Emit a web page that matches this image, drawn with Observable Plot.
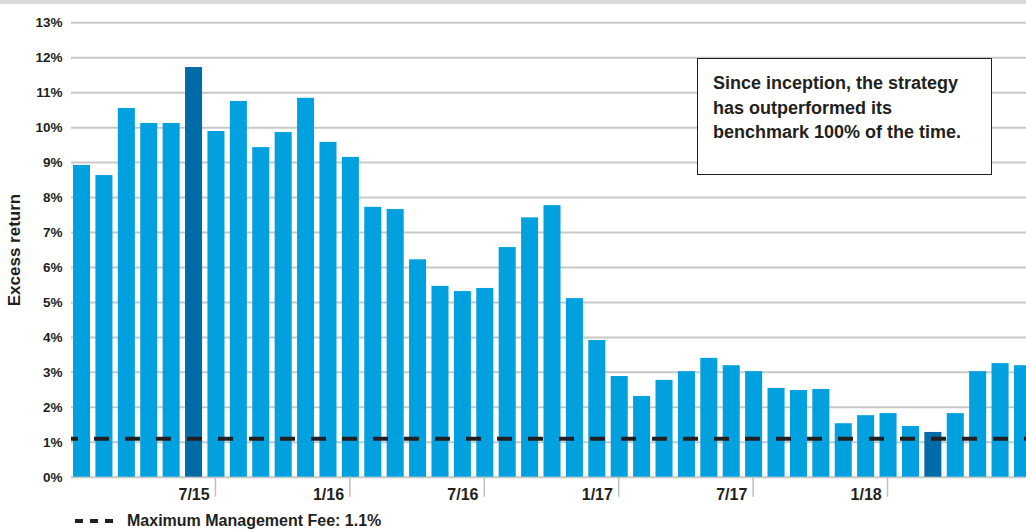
<!DOCTYPE html>
<html>
<head>
<meta charset="utf-8">
<script src="https://cdn.jsdelivr.net/npm/d3@7"></script>
<script src="https://cdn.jsdelivr.net/npm/@observablehq/plot@0.6"></script>
<style>
  html, body { margin: 0; padding: 0; background: #fff; overflow: hidden; }
  body { width: 1026px; height: 529px; font-family: "Liberation Sans", Arial, sans-serif; color: #231f20; }
  #band { height: 4px; background: #d9d9d9; }
  #wrap { position: relative; }
  #note {
    position: absolute; left: 697px; top: 54px; width: 278px; height: 103px;
    border: 1.5px solid #231f20; background: #fff; padding: 12px 0 0 15px;
    font-weight: bold; font-size: 18px; line-height: 24.5px; box-sizing: content-box;
  }
  #legend { position: relative; height: 18px; }
  #legend svg { position: absolute; left: 75px; top: 7px; }
  #legend span { position: absolute; left: 127px; top: 0px; font-weight: bold; font-size: 16px; line-height: 20px; }
</style>
</head>
<body>
<div id="band"></div>
<div id="wrap"></div>
<div id="legend"></div>
<script>
// ---- data ----
const months = ["2/15","3/15","4/15","5/15","6/15","7/15","8/15","9/15","10/15","11/15","12/15",
  "1/16","2/16","3/16","4/16","5/16","6/16","7/16","8/16","9/16","10/16","11/16","12/16",
  "1/17","2/17","3/17","4/17","5/17","6/17","7/17","8/17","9/17","10/17","11/17","12/17",
  "1/18","2/18","3/18","4/18","5/18","6/18","7/18","8/18"];
const excessReturn = [8.92, 8.63, 10.55, 10.12, 10.12, 11.72, 9.89, 10.75, 9.43, 9.86, 10.84,
  9.58, 9.15, 7.72, 7.66, 6.22, 5.46, 5.31, 5.40, 6.57, 7.42, 7.77, 5.11,
  3.91, 2.88, 2.31, 2.77, 3.02, 3.40, 3.19, 3.02, 2.54, 2.48, 2.51, 1.53,
  1.76, 1.82, 1.45, 1.28, 1.82, 3.02, 3.25, 3.19];
const highlighted = ["7/15", "4/18"];
const labelMonths = ["7/15","1/16","7/16","1/17","7/17","1/18"];
const tickMonths = ["8/15","2/16","8/16","2/17","8/17","2/18"];
const yTicks = [0,1,2,3,4,5,6,7,8,9,10,11,12,13];
const maxFee = 1.1;
const yTitle = "Excess return";
const noteLines = ["Since inception, the strategy", "has outperformed its", "benchmark 100% of the time."];
const legendLabel = "Maximum Management Fee: 1.1%";

const rows = months.map((m, i) => ({month: m, value: excessReturn[i], hi: highlighted.includes(m)}));

const font = "Liberation Sans, Arial, sans-serif";
const ink = "#231f20";

const chart = Plot.plot({
  width: 1026,
  height: 507,
  marginLeft: 71,
  marginRight: 0,
  marginTop: 18.3,
  marginBottom: 34.3,
  style: {fontFamily: font, color: ink, background: "#fff", overflow: "visible"},
  x: {type: "band", domain: months, range: [71, 1033], paddingInner: 0.24, paddingOuter: 0.09, align: 0.5, round: false},
  y: {domain: [0, 13]},
  marks: [
    Plot.ruleY(yTicks, {stroke: "#c8c8c8", strokeWidth: 2}),
    Plot.barY(rows, {x: "month", y: "value", fill: d => d.hi ? "#006ba6" : "#00a1de"}),
    Plot.ruleY([maxFee], {stroke: ink, strokeWidth: 4, strokeDasharray: "15,16", strokeDashoffset: 8}),
    Plot.axisY({ticks: yTicks, tickFormat: d => d + "%", tickSize: 0, tickPadding: 9,
      fontSize: 13.5, fontWeight: "bold", fill: ink, label: null}),
    Plot.axisX({ticks: labelMonths, tickSize: 0, tickPadding: 11, fontSize: 16, fontWeight: "bold", fill: ink, label: null}),
    Plot.axisX({ticks: tickMonths, tickSize: 20, tickFormat: () => "", stroke: "#bfbfbf", strokeWidth: 1.5, dx: -1, label: null}),
    Plot.text([yTitle], {frameAnchor: "left", rotate: -90, dx: -56.5, lineAnchor: "middle",
      textAnchor: "middle", fontSize: 17, fontWeight: "bold", fill: ink})
  ]
});
document.getElementById("wrap").appendChild(chart);

const note = document.createElement("div");
note.id = "note";
note.innerHTML = noteLines.join("<br>");
document.getElementById("wrap").appendChild(note);

const legend = document.getElementById("legend");
legend.innerHTML = `<svg width="40" height="6"><line x1="0" x2="40" y1="3" y2="3" stroke="${ink}" stroke-width="4" stroke-dasharray="8,7"/></svg><span>${legendLabel}</span>`;
</script>
</body>
</html>
